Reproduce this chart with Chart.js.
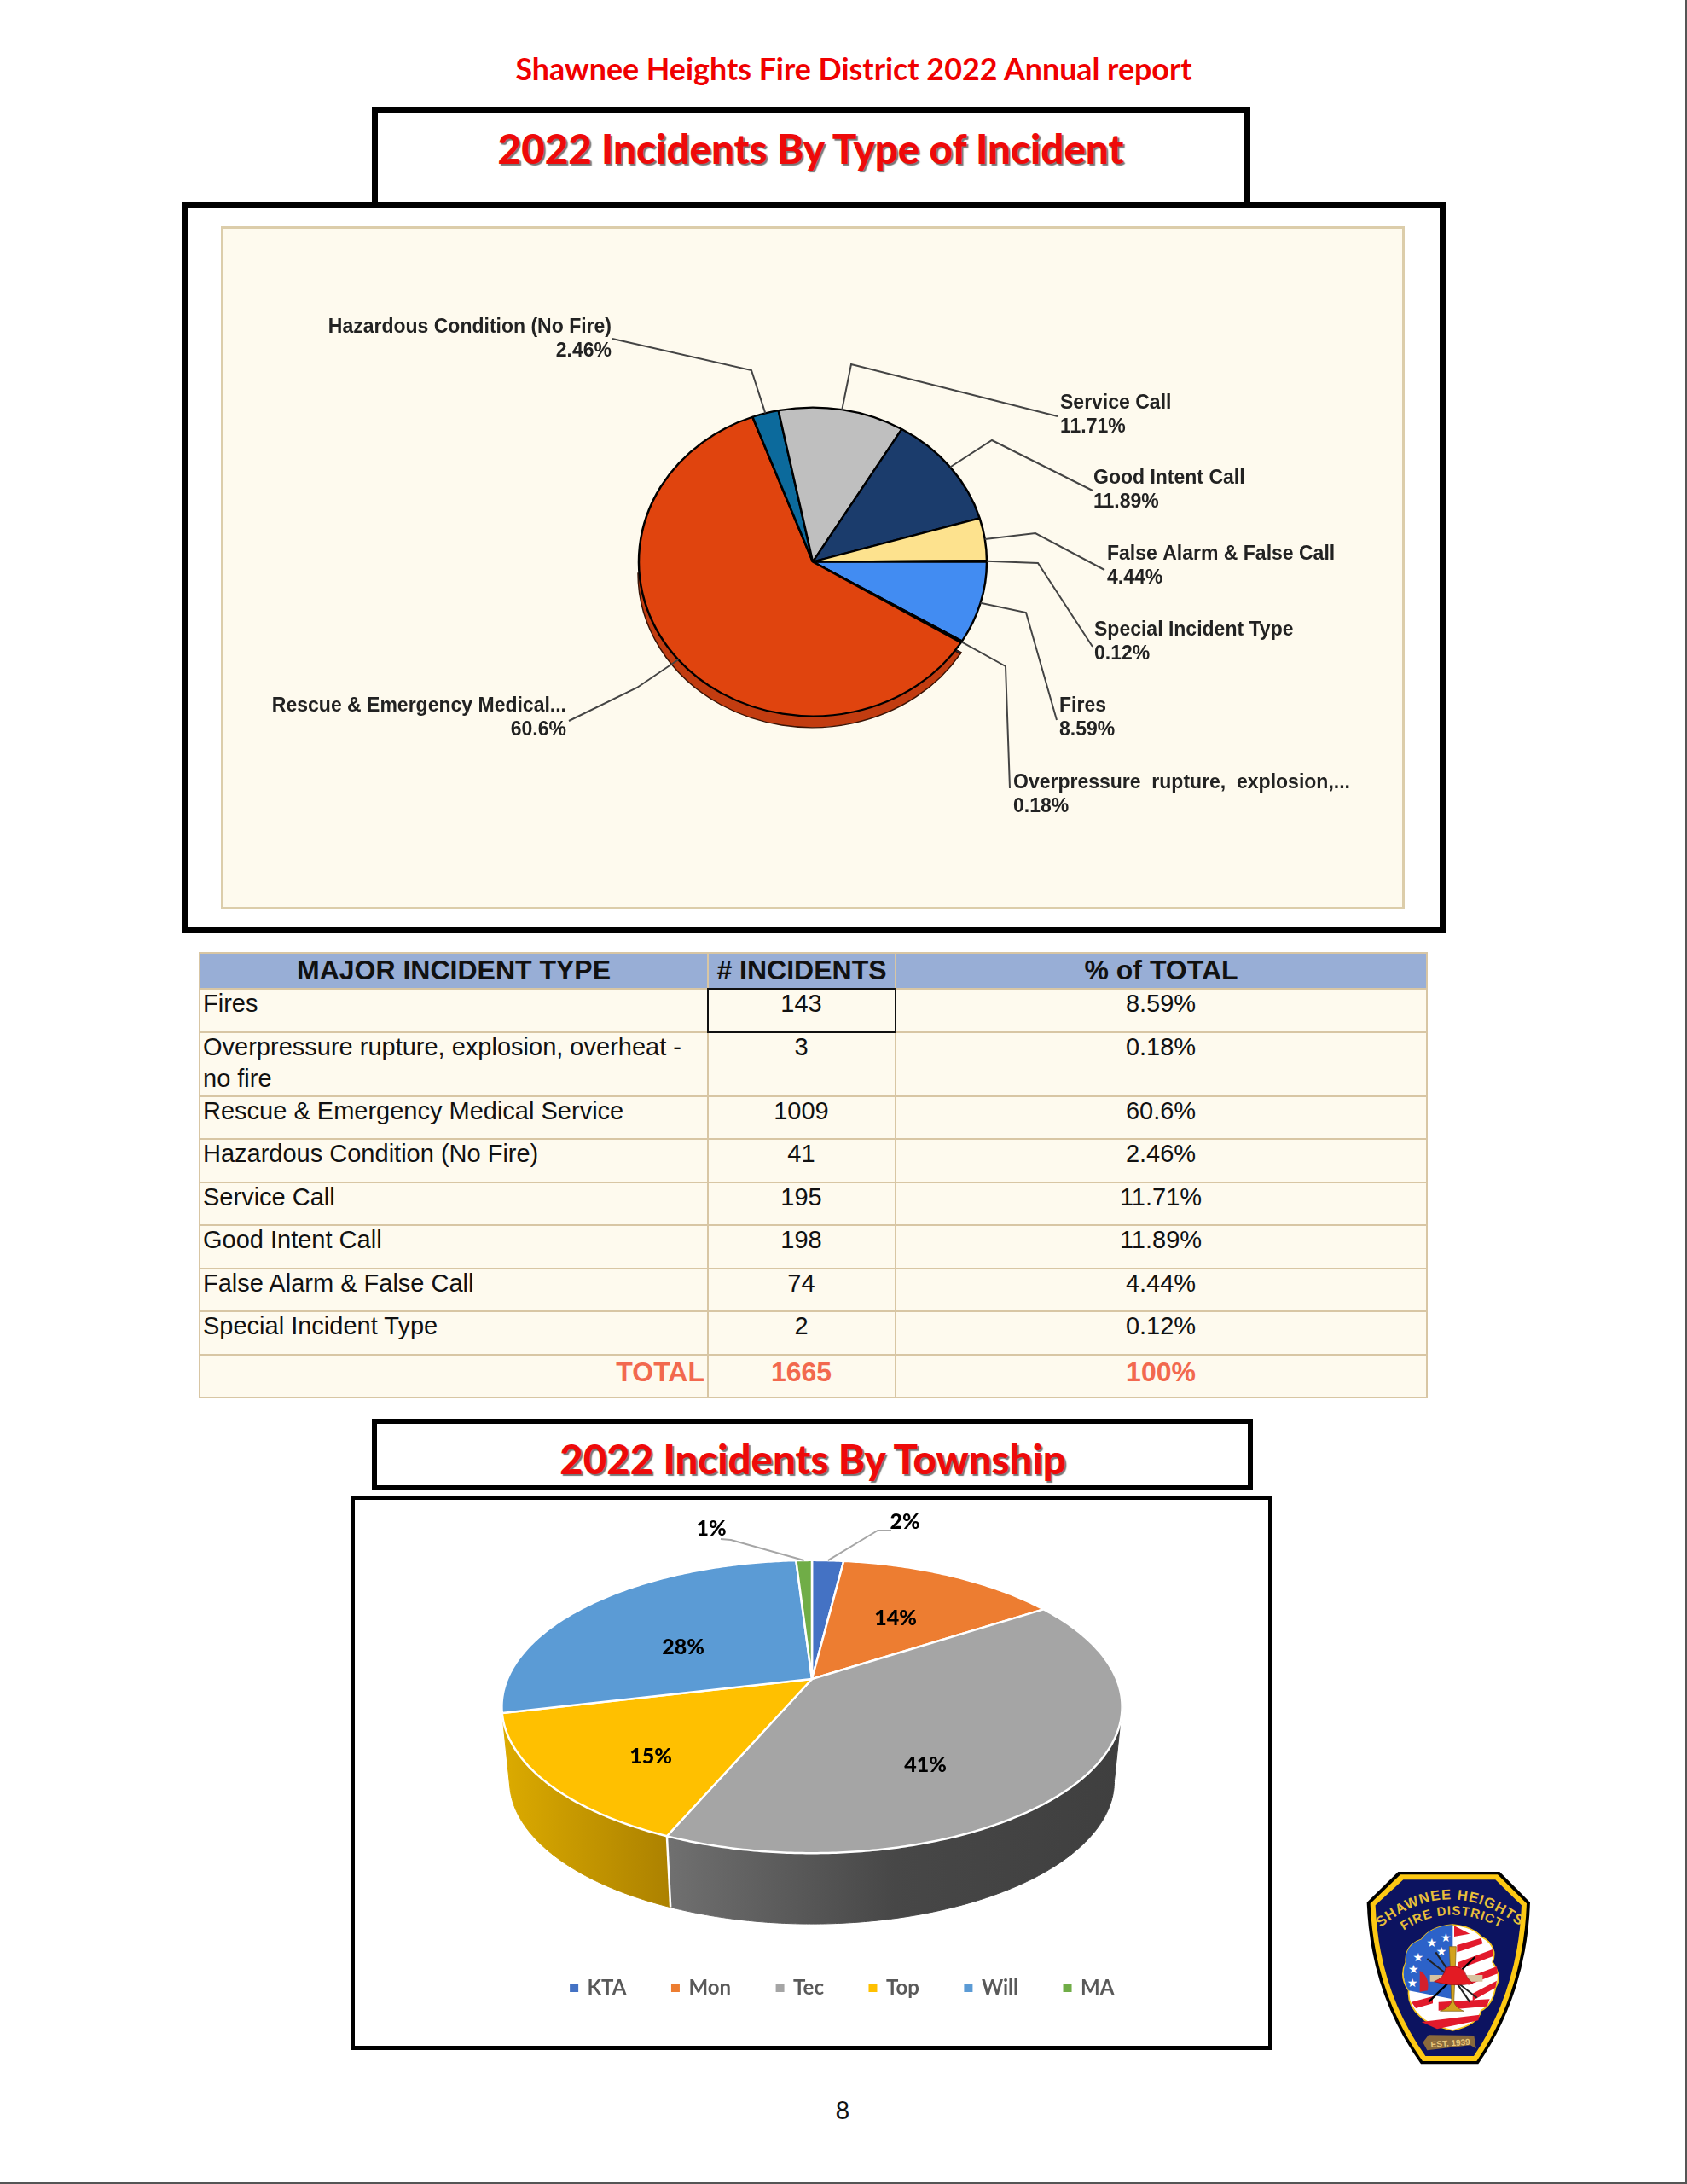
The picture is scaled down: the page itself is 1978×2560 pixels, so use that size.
<!DOCTYPE html>
<html>
<head>
<meta charset="utf-8">
<title>Shawnee Heights Fire District 2022 Annual report</title>
<script src="https://cdn.jsdelivr.net/npm/chart.js@4/dist/chart.umd.js"></script>
<style>
    html, body { margin: 0; padding: 0; background: #fff; }
    #page { position: relative; width: 1978px; height: 2560px; overflow: hidden; font-family: Lato, sans-serif; }
    #page > * { position: absolute; box-sizing: border-box; }
    .heading { color: #f00000; font-weight: 700; text-align: center; white-space: nowrap; }
    .boxTitle { color: #ee0a0a; font-weight: 900; text-align: center; white-space: nowrap; text-shadow: 2px 2px 1px #777; }
    .frame { border: 7px solid #000; background: #fff; }
    #pageTitle { left: 2px; top: 59px; width: 1998px; font-size: 35.8px; }
    #frameTypeTitle { left: 436px; top: 126px; width: 1030px; height: 120px; }
    #typeTitle { left: 437px; top: 145px; width: 1027px; font-size: 47.5px; }
    #frameType { left: 213px; top: 237px; width: 1482px; height: 857px; }
    #panel { left: 259px; top: 265px; width: 1388px; height: 801px; background: #fefaee; border: 3px solid #dccdaa; }
    #typeCanvasWrap { left: 260px; top: 266px; width: 1386px; height: 799px; }
    #incidentTable { left: 233px; top: 1116px; width: 1439px; border-collapse: collapse; table-layout: fixed; font-family: "Liberation Sans", Arial, sans-serif; font-size: 29px; background: #fefaee; color: #111; }
    #incidentTable th { background: #98aed6; font-size: 32px; padding: 0 0 2px; height: 38px; border: 2px solid #d8c6a4; line-height: 36px; }
    #incidentTable td { border: 2px solid #d8c6a4; padding: 0 4px 0 3px; vertical-align: top; text-align: center; }
    #incidentTable td div { margin-top: -2px; line-height: 37.5px; }
    #incidentTable td:first-child { text-align: left; }
    #incidentTable td.selected { outline: 2px solid #111; outline-offset: -1px; }
    #incidentTable tr.total td { color: #f2694f; font-weight: 700; font-size: 32px; vertical-align: middle; }
    #incidentTable tr.total td div { margin-top: -8px; }
    #incidentTable tr.total td:first-child { text-align: right; padding-right: 3px; }
    #frameTownTitle { left: 436px; top: 1663px; width: 1033px; height: 84px; border-width: 6px; }
    #townTitle { left: 436px; top: 1681px; width: 1034px; font-size: 47.4px; }
    #frameTown { left: 411px; top: 1753px; width: 1081px; height: 650px; border-width: 5px; }
    #townCanvasWrap { left: 416px; top: 1758px; width: 1070px; height: 640px; }
    #pageNumber { left: 968px; top: 2455px; width: 40px; text-align: center; font-size: 29px; color: #111; }
    #logo { left: 1570px; top: 2170px; width: 240px; height: 260px; }
    #edgeRight { left: 1976px; top: 0; width: 2px; height: 2560px; background: #555; }
    #edgeBottom { left: 0; top: 2558px; width: 1978px; height: 2px; background: #555; }
</style>
</head>
<body>
<div id="page">
    <div id="pageTitle" class="heading">Shawnee Heights Fire District 2022 Annual report</div>
    <div id="frameTypeTitle" class="frame"></div>
    <div id="typeTitle" class="boxTitle">2022 Incidents By Type of Incident</div>
    <div id="frameType" class="frame"></div>
    <div id="panel"></div>
    <div id="typeCanvasWrap"><canvas id="typeChart"></canvas></div>
    <table id="incidentTable"></table>
    <div id="frameTownTitle" class="frame"></div>
    <div id="townTitle" class="boxTitle">2022 Incidents By Township</div>
    <div id="frameTown" class="frame"></div>
    <div id="townCanvasWrap"><canvas id="townChart"></canvas></div>
    <div id="pageNumber">8</div>

    <svg id="logo" viewBox="0 0 720 780">
        <defs>
            <path id="arcTop" d="M142 272 Q385 68 642 268"/>
            <path id="arcBottom" d="M222 282 Q390 170 574 274"/>
        </defs>
        <path d="M208 72 L565 72 L672 180 Q660 500 490 748 L288 748 Q110 500 98 180 Z" fill="#000"/>
        <path d="M216 82 L558 82 L660 184 Q648 495 484 738 L294 738 Q122 495 110 184 Z" fill="#fdc913"/>
        <path d="M226 100 L550 100 L642 190 Q630 490 474 720 L304 720 Q140 490 128 190 Z" fill="#0c1360"/>
        <text font-family="Liberation Sans" font-weight="700" font-size="50" fill="#e8bf3a"><textPath href="#arcTop" startOffset="6" textLength="535">SHAWNEE HEIGHTS</textPath></text>
        <text font-family="Liberation Sans" font-weight="700" font-size="45" fill="#e8bf3a"><textPath href="#arcBottom" startOffset="6" textLength="358">FIRE DISTRICT</textPath></text>
        <path d="M400 258 Q470 265 500 300 Q560 330 540 390 Q575 440 550 480 Q540 540 500 560 Q490 610 400 630 Q310 610 285 580 Q240 540 245 490 Q210 440 235 390 Q230 330 290 310 Q320 265 400 258 Z" fill="#fff" stroke="#f5c518" stroke-width="5"/>
        <path d="M400 258 Q320 265 290 310 Q230 330 235 390 Q215 440 245 490 L400 520 Z" fill="#2c62c9"/>
        <path d="M405 262 L460 290 L405 300 Z M415 330 L500 305 L505 325 L415 355 Z M420 390 L540 345 L540 370 L420 415 Z M450 445 L555 405 L558 430 L455 470 Z M470 500 L555 455 L550 480 L470 525 Z M255 530 L330 510 L330 535 L270 552 Z M350 530 L530 520 L520 545 L350 560 Z M290 600 L495 575 L490 595 L345 625 Z" fill="#e21a2c"/>
        <g fill="#fff" font-size="42" font-family="DejaVu Sans" text-anchor="middle">
            <text x="376" y="318">★</text><text x="326" y="336">★</text><text x="360" y="366">★</text><text x="278" y="388">★</text><text x="262" y="430">★</text><text x="258" y="478">★</text>
        </g>
        <path d="M315 530 L478 372" stroke="#000" stroke-width="7"/>
        <path d="M310 378 L485 515 M340 355 L460 530" stroke="#222" stroke-width="6" fill="none"/>
        <path d="M320 435 L505 435 L505 458 L320 458 Z" fill="#d8c3a0"/>
        <path d="M388 335 L412 335 L404 530 Q410 550 438 562 L356 562 Q388 550 396 530 Z" fill="#d2a21e" stroke="#7a5a10" stroke-width="2"/>
        <path d="M284 420 Q320 440 312 490 L284 494 Z" fill="#d3202c"/>
        <path d="M335 458 Q370 445 375 410 Q410 395 440 420 Q448 445 470 465 Q400 478 335 458 Z" fill="#e31b23" stroke="#8c0f14" stroke-width="2"/>
        <path d="M295 672 L315 646 L475 648 L482 694 L462 682 L310 700 Z" fill="#8a6a3c"/>
        <text x="392" y="685" font-family="Liberation Sans" font-weight="700" font-size="30" fill="#e8c77a" text-anchor="middle" transform="rotate(-4 392 675)">EST. 1939</text>
    </svg>

    <div id="edgeRight"></div>
    <div id="edgeBottom"></div>
</div>

<script>
// incidents by type
const typeNames = ['Fires', 'Overpressure rupture, explosion, overheat - no fire', 'Rescue & Emergency Medical Service', 'Hazardous Condition (No Fire)', 'Service Call', 'Good Intent Call', 'False Alarm & False Call', 'Special Incident Type'];
const typeShortNames = ['Fires', 'Overpressure  rupture,  explosion,...', 'Rescue & Emergency Medical...', 'Hazardous Condition (No Fire)', 'Service Call', 'Good Intent Call', 'False Alarm & False Call', 'Special Incident Type'];
const typeCounts = [143, 3, 1009, 41, 195, 198, 74, 2];
const typePercents = ['8.59%', '0.18%', '60.6%', '2.46%', '11.71%', '11.89%', '4.44%', '0.12%'];
const typeTotal = ['TOTAL', '1665', '100%'];
const typeColors = ['#428cf2', '#1c64a8', '#e0440e', '#0c6a9c', '#bfbfbf', '#1b3c6c', '#fde28e', '#e8b030'];

// incidents by township
const townNames = ['KTA', 'Mon', 'Tec', 'Top', 'Will', 'MA'];
const townPercents = [2, 14, 41, 15, 28, 1];
const townColors = ['#4472c4', '#ed7d31', '#a5a5a5', '#ffc000', '#5b9bd5', '#70ad47'];

buildTable();
drawTypeChart();
drawTownChart();

function buildTable() {
    const rowHeights = [50.5, 73, 50.5, 50.5, 50.5, 50.5, 50.5, 50.5, 50.5];
    let html = `<colgroup><col style="width:596px"><col style="width:220px"><col style="width:623px"></colgroup>
        <tr><th>MAJOR INCIDENT TYPE</th><th># INCIDENTS</th><th>% of TOTAL</th></tr>`;
    typeNames.forEach((name, i) => {
        const selected = i === 0 ? ' class="selected"' : '';
        html += `<tr style="height:${rowHeights[i]}px"><td><div>${name.replace('&', '&amp;')}</div></td><td${selected}><div>${typeCounts[i]}</div></td><td><div>${typePercents[i]}</div></td></tr>`;
    });
    html += `<tr class="total" style="height:${rowHeights[8]}px">${typeTotal.map(t => `<td><div>${t}</div></td>`).join('')}</tr>`;
    document.querySelector('#incidentTable').innerHTML = html;
}

function drawTypeChart() {
    const panelLeft = 260, panelTop = 266;
    const squash = 0.887, wallDepth = 15, wallShift = 1;
    const wallSlices = [1, 2];
    // knee and end of each leader line, then where its two text lines sit (page pixels)
    const callouts = [
        { knee: [1203, 718], end: [1239, 844], x: 1242, y: 828, align: 'left' },
        { knee: [1179, 781], end: [1184, 924], x: 1188, y: 918, align: 'left' },
        { knee: [747, 806], end: [667, 845], x: 664, y: 828, align: 'right' },
        { knee: [881, 434], end: [718, 397], x: 717, y: 384, align: 'right' },
        { knee: [998, 427], end: [1240, 488], x: 1243, y: 473, align: 'left' },
        { knee: [1163, 516], end: [1281, 575], x: 1282, y: 561, align: 'left' },
        { knee: [1214, 625], end: [1295, 668], x: 1298, y: 650, align: 'left' },
        { knee: [1217, 660], end: [1281, 758], x: 1283, y: 739, align: 'left' }
    ];

    const squashPlugin = {
        id: 'squash',
        beforeDatasetDraw(chart) {
            const ctx = chart.ctx;
            const arcs = chart.getDatasetMeta(0).data;
            const cx = arcs[0].x, cy = arcs[0].y;
            ctx.save();
            ctx.translate(cx, cy);
            ctx.scale(1, squash);
            ctx.translate(-cx, -cy);
            // the rim showing under the front of the pie
            wallSlices.forEach(i => {
                const arc = arcs[i];
                ctx.beginPath();
                ctx.moveTo(cx - wallShift, cy + wallDepth);
                ctx.arc(cx - wallShift, cy + wallDepth, arc.outerRadius, arc.startAngle, Math.min(arc.endAngle, Math.PI));
                ctx.closePath();
                ctx.fillStyle = i === 2 ? '#c23c10' : '#163f70';
                ctx.fill();
                ctx.strokeStyle = '#3a1406';
                ctx.lineWidth = 1.5;
                ctx.stroke();
            });
        },
        afterDatasetDraw(chart) {
            chart.ctx.restore();
        }
    };

    const calloutPlugin = {
        id: 'callouts',
        afterDraw(chart) {
            const ctx = chart.ctx;
            const arcs = chart.getDatasetMeta(0).data;
            ctx.save();
            ctx.translate(-panelLeft, -panelTop);
            callouts.forEach((c, i) => {
                const arc = arcs[i];
                const mid = (arc.startAngle + arc.endAngle) / 2;
                const startX = arc.x + panelLeft + Math.cos(mid) * arc.outerRadius;
                const startY = arc.y + panelTop + Math.sin(mid) * arc.outerRadius * squash;
                ctx.beginPath();
                ctx.moveTo(startX, startY);
                ctx.lineTo(c.knee[0], c.knee[1]);
                ctx.lineTo(c.end[0], c.end[1]);
                ctx.strokeStyle = '#444';
                ctx.lineWidth = 2;
                ctx.stroke();
                ctx.fillStyle = '#222';
                ctx.font = '700 23px "Liberation Sans"';
                ctx.textAlign = c.align;
                ctx.textBaseline = 'middle';
                ctx.fillText(typeShortNames[i], c.x, c.y);
                ctx.fillText(typePercents[i], c.x, c.y + 27.5);
            });
            ctx.restore();
        }
    };

    new Chart(document.querySelector('#typeChart'), {
        type: 'pie',
        data: {
            labels: typeNames,
            datasets: [{
                data: typeCounts,
                backgroundColor: typeColors,
                borderColor: '#000',
                borderWidth: 2.5
            }]
        },
        options: {
            responsive: true,
            maintainAspectRatio: false,
            animation: false,
            rotation: 90,
            radius: 204,
            layout: { padding: { bottom: 14 } },
            plugins: { legend: { display: false }, tooltip: { enabled: false } }
        },
        plugins: [squashPlugin, calloutPlugin]
    });
}

function drawTownChart() {
    const wrapLeft = 416, wrapTop = 1758;
    // apex of the tilted pie on the page, and its perspective
    const apexX = 952, apexY = 1968;
    const spreadX = 357, spreadY = 165.5, tilt = 0.1895;
    const floorScale = 0.975, floorDrop = 88;
    const wallEdge = Math.asin(tilt);
    const wallGradients = { 2: ['#707070', '#474747', '#3f3f3f'], 3: ['#dcab00', '#c49600', '#ad8200'] };
    // label centres and leader lines on the page
    const labelSpots = [[1061, 1784], [1050, 1897], [1085, 2069], [763, 2059], [801, 1931], [834, 1792]];
    const leaders = { 0: [[1029, 1794], [1045, 1794]], 5: [[857, 1805], [845, 1804]] };

    function project(angle, r, floor) {
        const w = 1 - tilt * r * Math.sin(angle);
        const x = spreadX * r * Math.cos(angle) / w;
        const y = spreadY * r * Math.sin(angle) / w;
        if (floor) return [apexX + x * floorScale - wrapLeft, apexY + y * floorScale + floorDrop - wrapTop];
        return [apexX + x - wrapLeft, apexY + y - wrapTop];
    }

    function rimPath(ctx, from, to, floor, first) {
        const steps = Math.max(2, Math.ceil(Math.abs(to - from) / 0.01));
        for (let s = 0; s <= steps; s++) {
            const p = project(from + (to - from) * s / steps, 1, floor);
            if (first && s === 0) ctx.moveTo(p[0], p[1]);
            else ctx.lineTo(p[0], p[1]);
        }
    }

    const perspectivePlugin = {
        id: 'perspective',
        // the library works out the angles, this paints them tilted
        beforeDatasetDraw(chart) {
            const ctx = chart.ctx;
            const arcs = chart.getDatasetMeta(0).data;
            const wallFrom = wallEdge, wallTo = Math.PI - wallEdge;

            arcs.forEach((arc, i) => {
                const from = Math.max(arc.startAngle, wallFrom);
                const to = Math.min(arc.endAngle, wallTo);
                if (to <= from || !wallGradients[i]) return;
                ctx.beginPath();
                rimPath(ctx, from, to, false, true);
                rimPath(ctx, to, from, true, false);
                ctx.closePath();
                const left = project(to, 1, false)[0], right = project(from, 1, false)[0];
                const gradient = ctx.createLinearGradient(left, 0, right, 0);
                gradient.addColorStop(0, wallGradients[i][0]);
                gradient.addColorStop(0.5, wallGradients[i][1]);
                gradient.addColorStop(1, wallGradients[i][2]);
                ctx.fillStyle = gradient;
                ctx.fill();
                ctx.strokeStyle = gradient;
                ctx.lineWidth = 1;
                ctx.stroke();
            });

            // white seam where the two walls meet
            const seam = arcs[2].endAngle;
            const seamTop = project(seam, 1, false), seamBottom = project(seam, 1, true);
            ctx.beginPath();
            ctx.moveTo(seamTop[0], seamTop[1]);
            ctx.lineTo(seamBottom[0], seamBottom[1]);
            ctx.strokeStyle = '#fff';
            ctx.lineWidth = 2.5;
            ctx.stroke();

            arcs.forEach((arc, i) => {
                const apex = project(0, 0, false);
                ctx.beginPath();
                ctx.moveTo(apex[0], apex[1]);
                rimPath(ctx, arc.startAngle, arc.endAngle, false, false);
                ctx.closePath();
                ctx.fillStyle = townColors[i];
                ctx.fill();
                ctx.strokeStyle = '#fff';
                ctx.lineWidth = 2.5;
                ctx.lineJoin = 'round';
                ctx.stroke();
            });
            return false;
        },
        afterDraw(chart) {
            const ctx = chart.ctx;
            const arcs = chart.getDatasetMeta(0).data;
            Object.keys(leaders).forEach(i => {
                const arc = arcs[i];
                const start = project((arc.startAngle + arc.endAngle) / 2, 1, false);
                ctx.beginPath();
                ctx.moveTo(start[0], start[1]);
                leaders[i].forEach(p => ctx.lineTo(p[0] - wrapLeft, p[1] - wrapTop));
                ctx.strokeStyle = '#a6a6a6';
                ctx.lineWidth = 2;
                ctx.stroke();
            });
            ctx.fillStyle = '#000';
            ctx.font = '900 25px Lato';
            ctx.textAlign = 'center';
            ctx.textBaseline = 'middle';
            townPercents.forEach((value, i) => {
                ctx.fillText(value + '%', labelSpots[i][0] - wrapLeft, labelSpots[i][1] - wrapTop);
            });
        }
    };

    new Chart(document.querySelector('#townChart'), {
        type: 'pie',
        data: {
            labels: townNames,
            // borders only fatten the legend squares, the slices are painted by the plugin
            datasets: [{ data: townPercents, backgroundColor: townColors, borderColor: townColors, borderWidth: 3 }]
        },
        options: {
            responsive: true,
            maintainAspectRatio: false,
            animation: false,
            layout: { padding: { left: 74, bottom: 46 } },
            plugins: {
                tooltip: { enabled: false },
                legend: {
                    position: 'bottom',
                    labels: {
                        boxWidth: 7,
                        boxHeight: 7,
                        padding: 54,
                        color: '#595959',
                        font: { family: 'Lato', size: 24, weight: '700' }
                    }
                }
            }
        },
        plugins: [perspectivePlugin]
    });
}
</script>
</body>
</html>
